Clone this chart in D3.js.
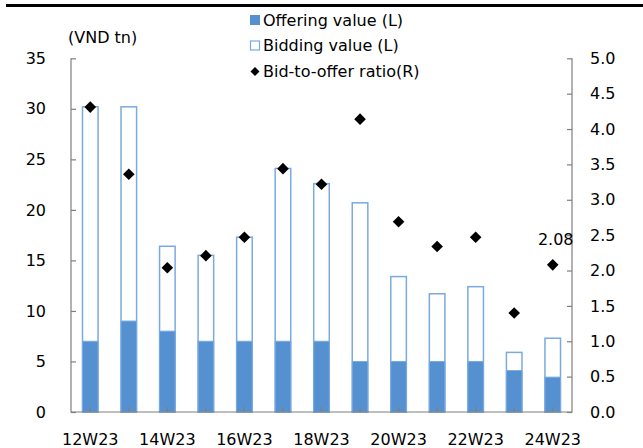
<!DOCTYPE html>
<html>
<head>
<meta charset="utf-8">
<script src="https://cdn.jsdelivr.net/npm/d3@7"></script>
<style>
  body { margin: 0; background: #fff; }
  text { font-family: "DejaVu Sans", sans-serif; fill: #000; }
</style>
</head>
<body>
<svg id="chart" width="643" height="448"></svg>
<script>
// values
const weeks = ["12W23", "13W23", "14W23", "15W23", "16W23", "17W23", "18W23",
               "19W23", "20W23", "21W23", "22W23", "23W23", "24W23"];
const offering = [7, 9, 8, 7, 7, 7, 7, 5, 5, 5, 5, 4.1, 3.45];
const bidding = [30.2, 30.2, 16.4, 15.5, 17.3, 24.1, 22.6, 20.7, 13.4, 11.7, 12.4, 5.9, 7.3];
const ratio = [4.31, 3.36, 2.04, 2.21, 2.47, 3.44, 3.22, 4.14, 2.69, 2.34, 2.47, 1.40, 2.08];
const leftTicks = [0, 5, 10, 15, 20, 25, 30, 35];
const rightTicks = [0, 0.5, 1, 1.5, 2, 2.5, 3, 3.5, 4, 4.5, 5];
const legendItems = ["Offering value (L)", "Bidding value (L)", "Bid-to-offer ratio(R)"];

const svg = d3.select("#chart");
const mLeft = 71, mRight = 572, mTop = 58.3, mBottom = 412;
const fillBlue = "#5590d0", lineBlue = "#7aaae0", axisGray = "#7f7f7f";

const x = d3.scaleBand().domain(weeks).range([mLeft, mRight]).paddingInner(0.57).paddingOuter(0.285);
const yL = d3.scaleLinear().domain([0, 35]).range([mBottom, mTop]);
const yR = d3.scaleLinear().domain([0, 5]).range([mBottom, mTop]);

// black rule on top
svg.append("rect").attr("x", 6).attr("y", 4).attr("width", 637).attr("height", 3).attr("fill", "#000");

// bidding bars (outline), offering on top
svg.selectAll(".bid").data(weeks).join("rect")
    .attr("x", d => x(d) + 0.5)
    .attr("y", (d, i) => yL(bidding[i]))
    .attr("width", x.bandwidth() - 1)
    .attr("height", (d, i) => yL(0) - yL(bidding[i]))
    .attr("fill", "#fff").attr("stroke", lineBlue).attr("stroke-width", 1.5);

svg.selectAll(".off").data(weeks).join("rect")
    .attr("x", d => x(d) + 0.5)
    .attr("y", (d, i) => yL(offering[i]))
    .attr("width", x.bandwidth() - 1)
    .attr("height", (d, i) => yL(0) - yL(offering[i]))
    .attr("fill", fillBlue).attr("stroke", lineBlue).attr("stroke-width", 1);

// axes
function styleAxis(g) {
    g.select(".domain").remove();
    g.selectAll("line").attr("stroke", axisGray).attr("stroke-width", 1.2);
    g.selectAll("text").style("font-size", "16px");
}

const axL = svg.append("g").attr("transform", `translate(${mLeft},0)`)
    .call(d3.axisRight(yL).tickValues(leftTicks).tickSize(5).tickFormat(d3.format("d")));
styleAxis(axL);
axL.selectAll("text").attr("x", -25).attr("text-anchor", "end");

const axR = svg.append("g").attr("transform", `translate(${mRight},0)`)
    .call(d3.axisLeft(yR).tickValues(rightTicks).tickSize(5).tickFormat(d3.format(".1f")));
styleAxis(axR);
axR.selectAll("text").attr("x", 18).attr("text-anchor", "start");

const axB = svg.append("g").attr("transform", `translate(0,${mBottom})`)
    .call(d3.axisTop(x).tickSize(5).tickFormat((d, i) => i % 2 === 0 ? d : ""));
styleAxis(axB);
axB.selectAll("text").attr("y", 28).attr("dy", "0.32em");

svg.append("path")
    .attr("d", `M${mLeft},${mTop}V${mBottom}H${mRight}V${mTop}`)
    .attr("fill", "none").attr("stroke", axisGray).attr("stroke-width", 1.2);

// ratio markers
const diamond = s => `M0,${-s}L${s},0L0,${s}L${-s},0Z`;
svg.selectAll(".ratio").data(weeks).join("path")
    .attr("d", diamond(5.8))
    .attr("transform", (d, i) => `translate(${x(d) + x.bandwidth() / 2},${yR(ratio[i])})`)
    .attr("fill", "#000");

const last = weeks.length - 1;
svg.append("text")
    .attr("x", x(weeks[last]) + x.bandwidth() / 2 + 3)
    .attr("y", yR(ratio[last]) - 25)
    .attr("dy", "0.35em").attr("text-anchor", "middle")
    .style("font-size", "16px").text(ratio[last].toFixed(2));

// unit label
svg.append("text").attr("x", 68).attr("y", 37).attr("dy", "0.35em")
    .style("font-size", "16px").text("(VND tn)");

// legend
const lg = svg.append("g");
const rows = [20, 45.5, 71.5];
lg.append("rect").attr("x", 250).attr("y", rows[0] - 5).attr("width", 10).attr("height", 10).attr("fill", fillBlue);
lg.append("rect").attr("x", 250.5).attr("y", rows[1] - 4.5).attr("width", 9).attr("height", 9)
    .attr("fill", "#fff").attr("stroke", lineBlue).attr("stroke-width", 1.2);
lg.append("path").attr("d", diamond(4.5)).attr("transform", `translate(255,${rows[2]})`).attr("fill", "#000");
lg.selectAll("text").data(legendItems).join("text")
    .attr("x", 263).attr("y", (d, i) => rows[i]).attr("dy", "0.35em")
    .style("font-size", "16px").text(d => d);
</script>
</body>
</html>
